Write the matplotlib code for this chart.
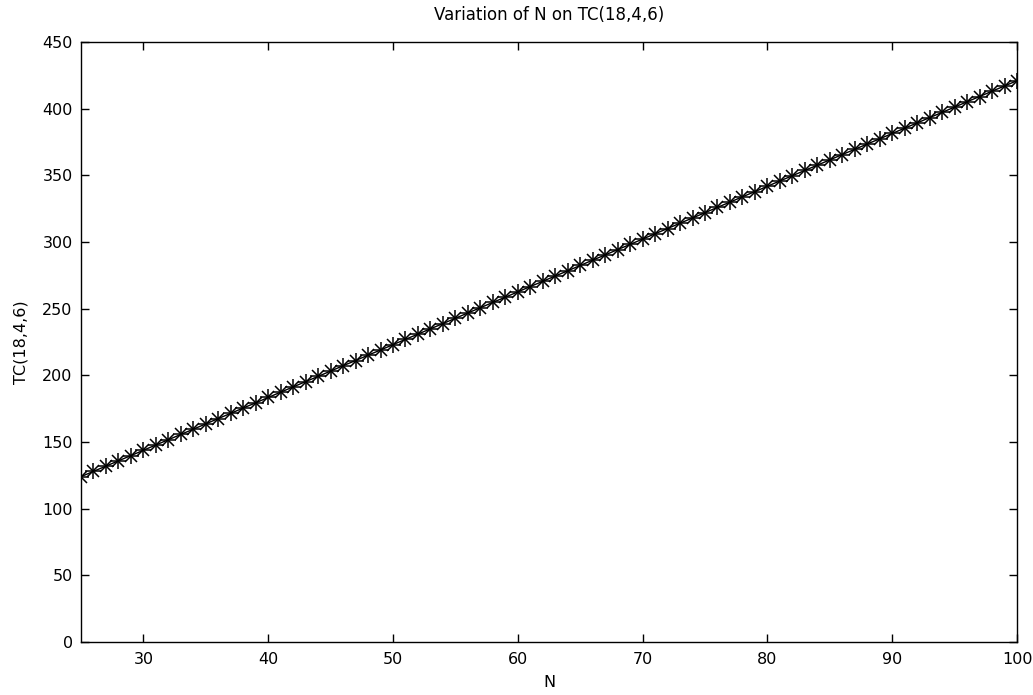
import matplotlib
matplotlib.use("Agg")
import matplotlib.pyplot as plt

plt.rcParams['font.family'] = ['DejaVu Sans']

N = list(range(25, 101))
TC = [124.0, 128.0, 131.9, 135.9, 139.8, 143.8, 147.8, 151.7, 155.7, 159.6,
      163.6, 167.6, 171.5, 175.5, 179.4, 183.4, 187.4, 191.3, 195.3, 199.2,
      203.2, 207.2, 211.1, 215.1, 219.0, 223.0, 227.0, 230.9, 234.9, 238.8,
      242.8, 246.8, 250.7, 254.7, 258.6, 262.6, 266.6, 270.5, 274.5, 278.4,
      282.4, 286.4, 290.3, 294.3, 298.2, 302.2, 306.2, 310.1, 314.1, 318.0,
      322.0, 326.0, 329.9, 333.9, 337.8, 341.8, 345.8, 349.7, 353.7, 357.6,
      361.6, 365.6, 369.5, 373.5, 377.4, 381.4, 385.4, 389.3, 393.3, 397.2,
      401.2, 405.2, 409.1, 413.1, 417.0, 421.0]

xticks = [30, 40, 50, 60, 70, 80, 90, 100]
yticks = [0, 50, 100, 150, 200, 250, 300, 350, 400, 450]

fig = plt.figure(figsize=(10.33, 6.95), dpi=100)
ax = fig.add_axes([81/1033, 53/695, (1017-81)/1033, 600/695])

ax.plot(N, TC, '-', color='black', linewidth=1.0)
ax.plot(N, TC, '+', color='black', markersize=11, markeredgewidth=1.1)
ax.plot(N, TC, 'x', color='black', markersize=8, markeredgewidth=1.1)

ax.set_xlim(25, 100)
ax.set_ylim(0, 450)
ax.set_xticks(xticks)
ax.set_yticks(yticks)
ax.tick_params(direction='in', top=True, right=True, labelsize=11.5, length=6, width=1)
ax.tick_params(axis='x', pad=7)
ax.tick_params(axis='y', pad=6)
for s in ax.spines.values():
    s.set_linewidth(1.0)

ax.set_title('Variation of N on TC(18,4,6)', fontsize=12, pad=16)
ax.set_xlabel('N', fontsize=11.5, labelpad=6)
ax.set_ylabel('TC(18,4,6)', fontsize=11.5, labelpad=10)

fig.savefig('out.png', dpi=100)
